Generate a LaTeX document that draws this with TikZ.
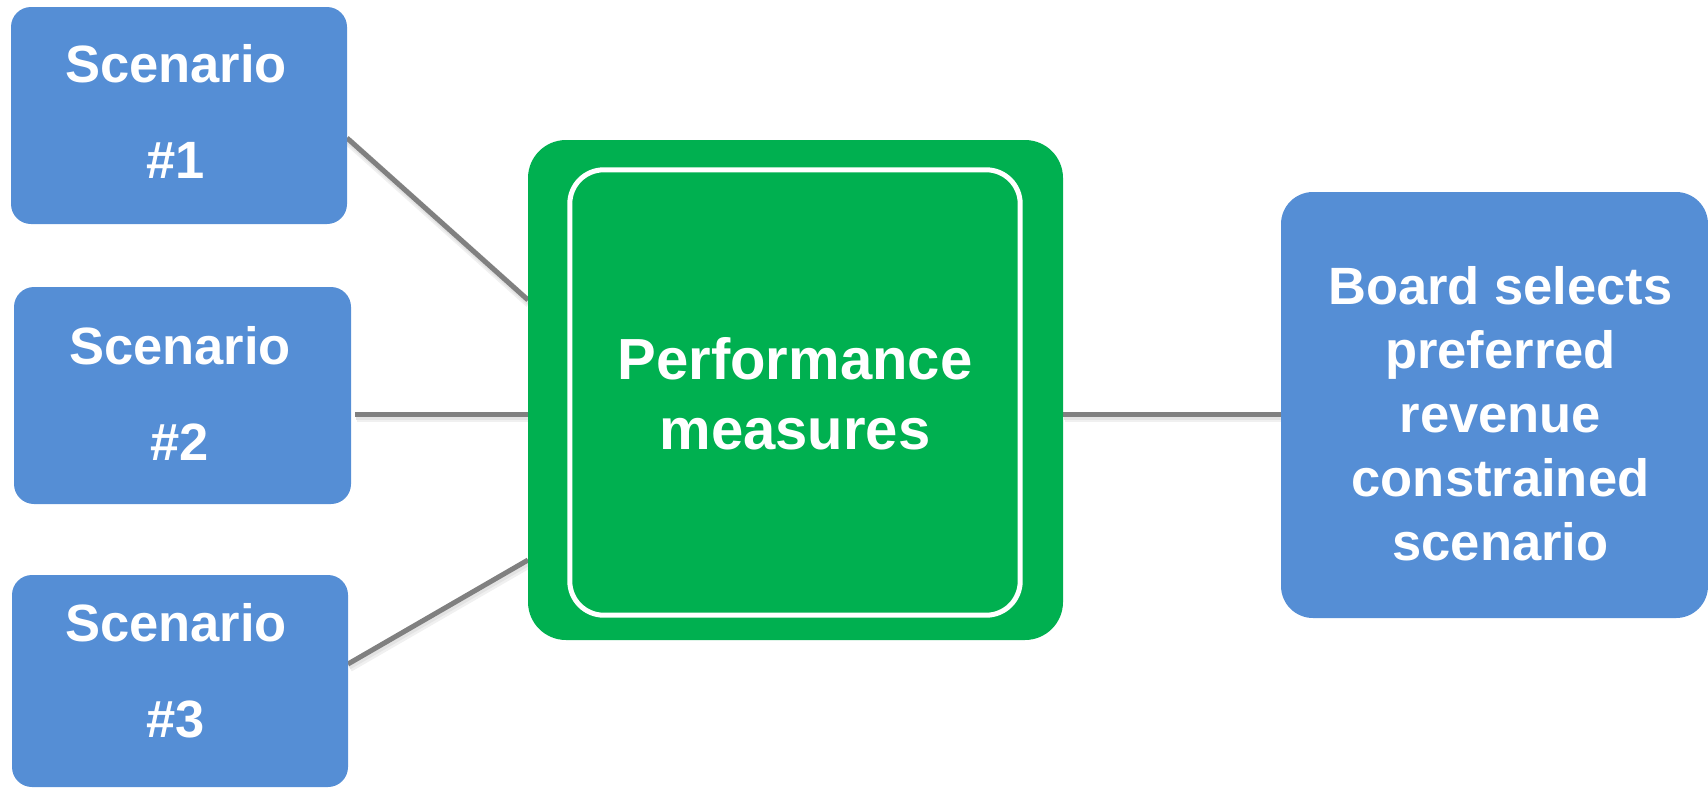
\documentclass[tikz,border=0pt]{standalone}
\usepackage{fontspec}
\setmainfont{Liberation Sans}
\usetikzlibrary{calc}
\definecolor{boxblue}{HTML}{558ED5}
\definecolor{pmgreen}{HTML}{00B050}
\definecolor{linegray}{HTML}{808080}
\begin{document}
\begin{tikzpicture}[x=1pt,y=-1pt,
  bluebox/.style={fill=boxblue, draw=none, inner sep=0pt, rounded corners=20pt},
  greenbox/.style={fill=pmgreen, draw=none, inner sep=0pt, rounded corners=38pt},
  txt/.style={text=white, align=center, inner sep=0pt, font=\bfseries\fontsize{52.5}{96}\selectfont},
  conn/.style={draw=linegray, line width=5pt},
  connshadowa/.style={draw=black!6, line width=9pt},
  connshadowb/.style={draw=black!11, line width=6pt},
]
\useasboundingbox (0,0) rectangle (1708,788);
% boxes (positions)
\coordinate (p1) at (179,115.5);
\coordinate (p2) at (182.5,395.5);
\coordinate (p3) at (180,681);
\coordinate (pg) at (795.5,390);
\coordinate (pr) at (1494.5,405);
% connector end points on the boxes' borders
\path (p1) ++(168,22.5) coordinate (c1a);
\path (pg) ++(-267.5,-90) coordinate (c1b);
\path (p2) ++(172.5,18.5) coordinate (c2a);
\path (pg) ++(-267.5,24) coordinate (c2b);
\path (p3) ++(168,-17) coordinate (c3a);
\path (pg) ++(-267.5,170) coordinate (c3b);
\path (pg) ++(267.5,24) coordinate (c4a);
\path (pr) ++(-213.5,9) coordinate (c4b);
% soft shadows of connectors
\foreach \a/\b in {c1a/c1b,c2a/c2b,c3a/c3b,c4a/c4b}
  \draw[connshadowa] ($(\a)+(1.5,3.5)$) -- ($(\b)+(1.5,3.5)$);
\foreach \a/\b in {c1a/c1b,c2a/c2b,c3a/c3b,c4a/c4b}
  \draw[connshadowb] ($(\a)+(1,2.5)$) -- ($(\b)+(1,2.5)$);
\foreach \a/\b in {c1a/c1b,c2a/c2b,c3a/c3b,c4a/c4b}
  \draw[conn] (\a) -- (\b);
% nodes
\node[bluebox, minimum width=336pt, minimum height=217pt] (s1) at (p1) {};
\node[bluebox, minimum width=337pt, minimum height=217pt] (s2) at (p2) {};
\node[bluebox, minimum width=336pt, minimum height=212pt] (s3) at (p3) {};
\node[bluebox, rounded corners=32pt, minimum width=427pt, minimum height=426pt] (rb) at (pr) {};
\node[greenbox, minimum width=535pt, minimum height=500pt] (pm) at (pg) {};
\draw[white, line width=5pt, rounded corners=34pt]
  ($(pm.north west)+(42,30)$) rectangle ($(pm.south east)+(-43,-25)$);
% texts
\node[txt] (s1t) at (176,111) {Scenario\\\#1};
\node[txt] (s2t) at (180,393) {Scenario\\\#2};
\node[txt] (s3t) at (176,671) {Scenario\\\#3};
\node[txt, font=\bfseries\fontsize{58}{70}\selectfont] (pmt) at (795,394) {Performance\\measures};
\node[txt, font=\bfseries\fontsize{52.5}{64}\selectfont] (rbt) at (1500.5,414) {Board selects\\preferred\\revenue\\constrained\\scenario};
\end{tikzpicture}
\end{document}
